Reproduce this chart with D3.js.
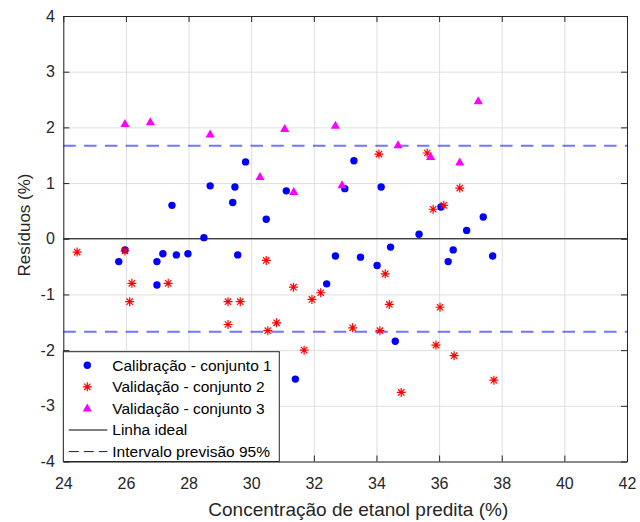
<!DOCTYPE html>
<html>
<head>
<meta charset="utf-8">
<script src="https://cdn.jsdelivr.net/npm/d3@7"></script>
<style>
  body { margin: 0; background: #fff; }
  svg { font-family: "Liberation Sans", Arial, sans-serif; }
</style>
</head>
<body>
<div id="chart"></div>
<script>
// calibration set 1 (predicted %, residual %)
var calX = [25.77, 25.97, 26.99, 27.18, 27.47, 27.61, 27.98, 26.99, 28.49, 28.69, 29.41,
            29.48, 29.57, 29.82, 30.48, 31.12, 31.41, 32.41, 32.69, 32.99, 33.28, 33.49,
            34.02, 34.15, 34.45, 34.60, 35.36, 36.06, 36.29, 36.45, 36.88, 37.41, 37.71];
var calY = [-0.41, -0.20, -0.41, -0.27, 0.60, -0.29, -0.27, -0.83, 0.02, 0.95, 0.65,
            0.93, -0.29, 1.38, 0.35, 0.86, -2.52, -0.81, -0.31, 0.90, 1.40, -0.33,
            -0.48, 0.93, -0.15, -1.84, 0.08, 0.57, -0.41, -0.20, 0.15, 0.39, -0.31];

// validation set 2
var val2X = [24.44, 25.97, 26.12, 26.19, 27.35, 29.26, 29.26, 29.65, 30.48, 30.53, 30.81,
             31.35, 31.69, 31.94, 32.22, 33.24, 34.08, 34.11, 34.28, 34.41, 34.79, 35.62,
             35.81, 35.90, 36.03, 36.15, 36.48, 36.66, 37.75];
var val2Y = [-0.24, -0.22, -1.13, -0.80, -0.80, -1.13, -1.54, -1.13, -0.39, -1.65, -1.51,
             -0.87, -2.00, -1.09, -0.97, -1.60, 1.52, -1.65, -0.63, -1.18, -2.76, 1.54,
             0.53, -1.91, -1.23, 0.60, -2.10, 0.91, -2.54];

// validation set 3
var val3X = [25.97, 26.78, 28.69, 30.28, 31.07, 31.36, 32.69, 32.90, 34.69, 35.73, 36.66, 37.25];
var val3Y = [2.06, 2.09, 1.87, 1.11, 1.97, 0.84, 2.03, 0.96, 1.68, 1.47, 1.37, 2.47];

var predLimit = 1.67;
var xTicks = [24, 26, 28, 30, 32, 34, 36, 38, 40, 42];
var yTicks = [-4, -3, -2, -1, 0, 1, 2, 3, 4];
var legendLabels = ["Calibração - conjunto 1", "Validação - conjunto 2", "Validação - conjunto 3",
                    "Linha ideal", "Intervalo previsão 95%"];

var W = 640, H = 522;
var margin = {top: 16, right: 13, bottom: 60.5, left: 63.3},
    width = W - margin.left - margin.right,
    height = H - margin.top - margin.bottom;

var x = d3.scaleLinear().domain([24, 42]).range([0, width]);
var y = d3.scaleLinear().domain([-4, 4]).range([height, 0]);

var svg = d3.select("#chart").append("svg")
    .attr("width", W)
    .attr("height", H);

var g = svg.append("g")
    .attr("transform", "translate(" + margin.left + "," + margin.top + ")");

var axisColor = "#262626";
var fmt = function(d) { return String(d); };

// grid
g.append("g")
    .attr("transform", "translate(0," + height + ")")
    .call(d3.axisBottom(x).tickValues(xTicks).tickSize(-height).tickFormat(""))
    .call(function(s) {
      s.select(".domain").remove();
      s.selectAll("line").attr("stroke", "#dfdfdf");
    });
g.append("g")
    .call(d3.axisLeft(y).tickValues(yTicks).tickSize(-width).tickFormat(""))
    .call(function(s) {
      s.select(".domain").remove();
      s.selectAll("line").attr("stroke", "#dfdfdf");
    });

// prediction interval lines
[predLimit, -predLimit].forEach(function(v) {
  g.append("line")
      .attr("x1", 0).attr("x2", width)
      .attr("y1", y(v)).attr("y2", y(v))
      .attr("stroke", "#0000ff")
      .attr("stroke-opacity", 0.55)
      .attr("stroke-width", 2)
      .attr("stroke-dasharray", "12.5,8.3");
});

// ideal line
g.append("line")
    .attr("x1", 0).attr("x2", width)
    .attr("y1", y(0)).attr("y2", y(0))
    .attr("stroke", "#000")
    .attr("stroke-width", 1.2);

// markers
function starPath(r) {
  var d = r * Math.SQRT1_2;
  return "M" + (-r) + ",0L" + r + ",0M0," + (-r) + "L0," + r +
         "M" + (-d) + "," + (-d) + "L" + d + "," + d +
         "M" + (-d) + "," + d + "L" + d + "," + (-d);
}
var triPath = "M0,-5L4.6,3L-4.6,3Z";

g.append("g").selectAll("circle")
    .data(d3.zip(calX, calY))
    .enter().append("circle")
    .attr("cx", function(d) { return x(d[0]); })
    .attr("cy", function(d) { return y(d[1]); })
    .attr("r", 3.7)
    .attr("fill", "#0000ff");

g.append("g").selectAll("path")
    .data(d3.zip(val2X, val2Y))
    .enter().append("path")
    .attr("transform", function(d) { return "translate(" + x(d[0]) + "," + y(d[1]) + ")"; })
    .attr("d", starPath(4.5))
    .attr("stroke", "#ff0000")
    .attr("stroke-width", 1.2)
    .attr("fill", "none");

g.append("g").selectAll("path")
    .data(d3.zip(val3X, val3Y))
    .enter().append("path")
    .attr("transform", function(d) { return "translate(" + x(d[0]) + "," + y(d[1]) + ")"; })
    .attr("d", triPath)
    .attr("fill", "#ff00ff");

// axes (ticks inward, box on)
function styleAxis(s) {
  s.select(".domain").attr("stroke", axisColor);
  s.selectAll(".tick line").attr("stroke", axisColor);
  s.selectAll("text").attr("fill", axisColor).style("font-size", "16px");
}
g.append("g")
    .attr("transform", "translate(0," + height + ")")
    .call(d3.axisBottom(x).tickValues(xTicks).tickSizeInner(-6).tickSizeOuter(0)
      .tickPadding(16).tickFormat(fmt))
    .call(styleAxis);
g.append("g")
    .call(d3.axisTop(x).tickValues(xTicks).tickSizeInner(-6).tickSizeOuter(0).tickFormat(""))
    .call(styleAxis);
g.append("g")
    .call(d3.axisLeft(y).tickValues(yTicks).tickSizeInner(-6).tickSizeOuter(0)
      .tickPadding(8.5).tickFormat(fmt))
    .call(styleAxis);
g.append("g")
    .attr("transform", "translate(" + width + ",0)")
    .call(d3.axisRight(y).tickValues(yTicks).tickSizeInner(-6).tickSizeOuter(0).tickFormat(""))
    .call(styleAxis);

// axis titles
svg.append("text")
    .attr("x", 358.3)
    .attr("y", 515.5)
    .attr("text-anchor", "middle")
    .attr("fill", axisColor)
    .style("font-size", "19px")
    .text("Concentração de etanol predita (%)");

svg.append("text")
    .attr("transform", "translate(30,225) rotate(-90)")
    .attr("text-anchor", "middle")
    .attr("fill", axisColor)
    .style("font-size", "17px")
    .text("Resíduos (%)");

// legend
var leg = g.append("g").attr("transform", "translate(0," + (351.7 - margin.top) + ")");
leg.append("rect")
    .attr("x", 0).attr("y", 0)
    .attr("width", 216).attr("height", height - (351.7 - margin.top))
    .attr("fill", "#fff")
    .attr("stroke", axisColor)
    .attr("stroke-width", 1);

var rowY = function(i) { return 13.5 + i * 21.6; };
var items = leg.selectAll("g.item")
    .data(legendLabels)
    .enter().append("g")
    .attr("class", "item")
    .attr("transform", function(d, i) { return "translate(0," + rowY(i) + ")"; });

items.append("text")
    .attr("x", 49)
    .attr("dy", "0.35em")
    .attr("fill", "#000")
    .style("font-size", "15.5px")
    .text(function(d) { return d; });

var mx = 24;
items.each(function(d, i) {
  var s = d3.select(this);
  if (i === 0) {
    s.append("circle").attr("cx", mx).attr("r", 3.7).attr("fill", "#0000ff");
  } else if (i === 1) {
    s.append("path").attr("transform", "translate(" + mx + ",0)").attr("d", starPath(4.5))
      .attr("stroke", "#ff0000").attr("stroke-width", 1.2).attr("fill", "none");
  } else if (i === 2) {
    s.append("path").attr("transform", "translate(" + mx + ",0)").attr("d", triPath)
      .attr("fill", "#ff00ff");
  } else if (i === 3) {
    s.append("line").attr("x1", 5.5).attr("x2", 44).attr("stroke", "#000").attr("stroke-width", 1);
  } else {
    s.append("line").attr("x1", 5.5).attr("x2", 44).attr("stroke", "#0000ff")
      .attr("stroke-width", 1).attr("stroke-dasharray", "10,5");
  }
});
</script>
</body>
</html>
